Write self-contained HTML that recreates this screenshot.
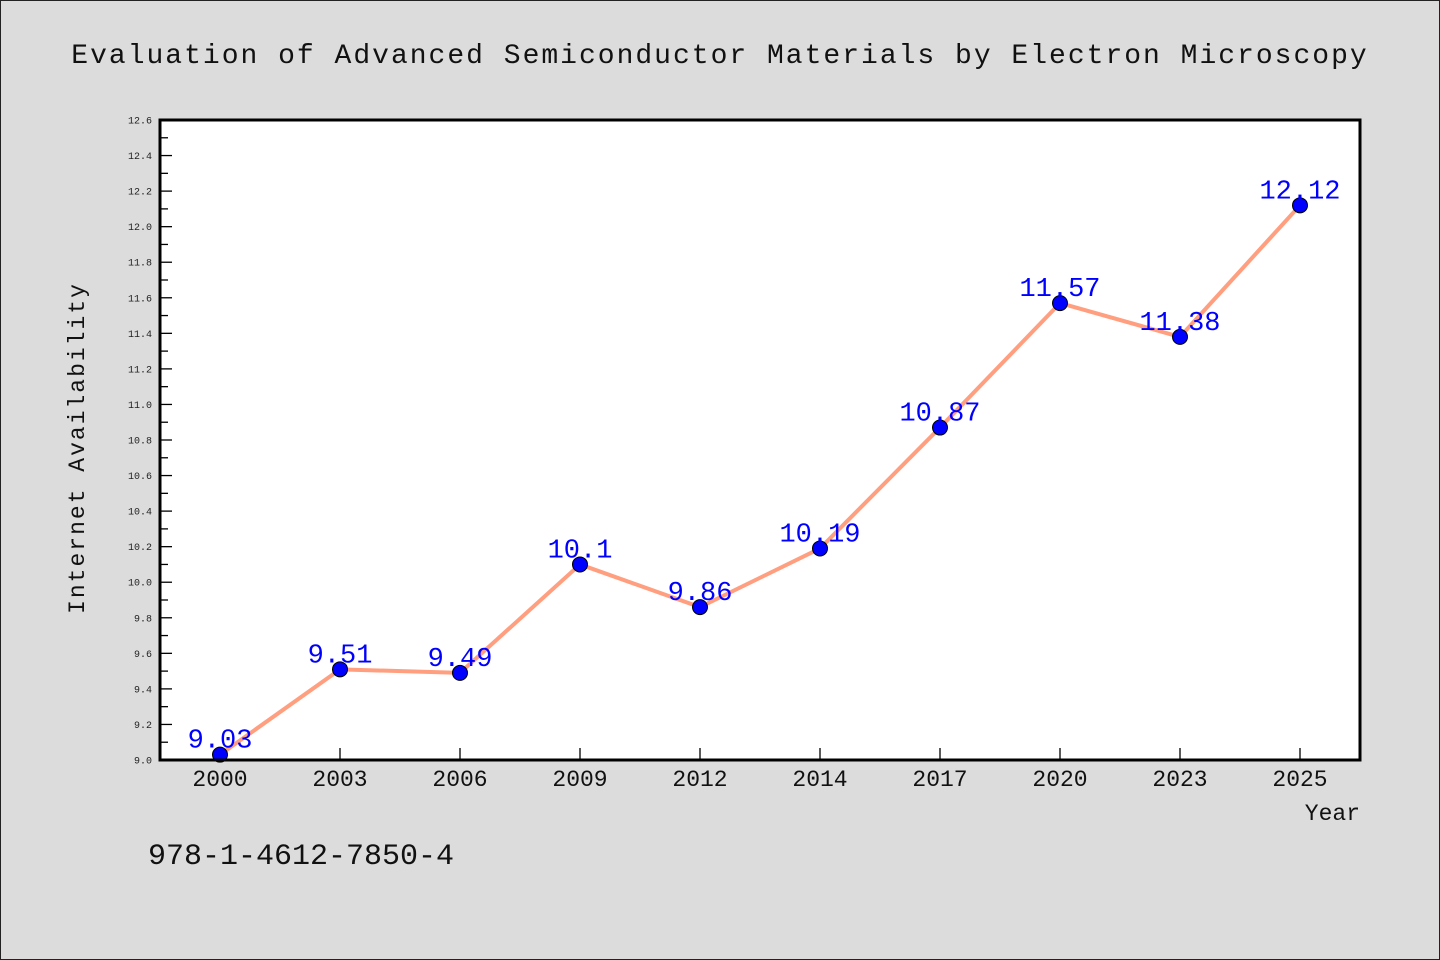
<!DOCTYPE html>
<html><head><meta charset="utf-8">
<style>
html,body{margin:0;padding:0;background:#dcdcdc;}
svg{display:block;font-family:"WenQuanYi Zen Hei","Liberation Mono",monospace;}
</style></head>
<body>
<svg id="chart" width="1440" height="960" viewBox="0 0 1440 960">
<rect x="0.5" y="0.5" width="1439" height="959" fill="#dcdcdc" stroke="#222"/>
<text x="720" y="63" text-anchor="middle" font-size="28" fill="#111" letter-spacing="2">Evaluation of Advanced Semiconductor Materials by Electron Microscopy</text>
<rect x="160" y="120" width="1200" height="640" fill="#fff"/>
<g id="yticks"></g>
<g id="xticks"></g>
<g id="series"></g>
<rect x="160" y="120" width="1200" height="640" fill="none" stroke="#000" stroke-width="3"/>
<text transform="translate(84,448) rotate(-90)" text-anchor="middle" font-size="23" fill="#111" letter-spacing="2">Internet Availability</text>
<text x="1360" y="820" text-anchor="end" font-size="23" fill="#111">Year</text>
<text x="148" y="864" font-size="30" fill="#111">978-1-4612-7850-4</text>
</svg>
<script>
const categories = ["2000","2003","2006","2009","2012","2014","2017","2020","2023","2025"];
const values = [9.03,9.51,9.49,10.1,9.86,10.19,10.87,11.57,11.38,12.12];
const yTicks = [9.0,9.2,9.4,9.6,9.8,10.0,10.2,10.4,10.6,10.8,11.0,11.2,11.4,11.6,11.8,12.0,12.2,12.4,12.6];
const NS="http://www.w3.org/2000/svg";
const L=160,R=1360,T=120,B=760,yMin=9.0,yMax=12.6;
const step=(R-L)/categories.length;
function xPos(i){return L+step*(i+0.5);}
function yPos(v){return B-(v-yMin)/(yMax-yMin)*(B-T);}
function mk(tag,attrs,parent){const e=document.createElementNS(NS,tag);for(const k in attrs)e.setAttribute(k,attrs[k]);parent.appendChild(e);return e;}
const yg=document.getElementById('yticks');
yTicks.forEach((v,i)=>{
  const y=yPos(v);
  const t=mk('line',{x1:L,x2:L+12,y1:y,y2:y,stroke:'#000','stroke-width':1.3},yg);
  
  
  const lb=mk('text',{x:L-8,y:y+3.5,'text-anchor':'end','font-size':10,fill:'#222'},yg);
  lb.textContent=v.toFixed(1);
  
  
  if(i<yTicks.length-1){
    const ym=yPos(v+0.1);
    const m=mk('line',{x1:L,x2:L+8,y1:ym,y2:ym,stroke:'#000','stroke-width':1.3},yg);
    
    
  }
});
const xg=document.getElementById('xticks');
categories.forEach((c,i)=>{
  const x=xPos(i);
  const t=mk('line',{x1:x,x2:x,y1:B,y2:B-12,stroke:'#000','stroke-width':1.3},xg);
  
  
  const lb=mk('text',{x:x,y:B+26,'text-anchor':'middle','font-size':23,fill:'#111'},xg);
  lb.textContent=c;
  
  
});
const sg=document.getElementById('series');
const pts=values.map((v,i)=>xPos(i)+','+yPos(v)).join(' ');
const pl=mk('polyline',{points:pts,fill:'none',stroke:'#ff9f7f','stroke-width':4,'stroke-linejoin':'round'},sg);


values.forEach((v,i)=>{
  const c=mk('circle',{cx:xPos(i),cy:yPos(v),r:7.5,fill:'#0000ff',stroke:'#000','stroke-width':1},sg);
  
  
});
values.forEach((v,i)=>{
  const t=mk('text',{x:xPos(i),y:yPos(v)-7,'text-anchor':'middle','font-size':27,fill:'#0000ff'},sg);
  t.textContent=String(v);
  
  
});
</script>
</body></html>
